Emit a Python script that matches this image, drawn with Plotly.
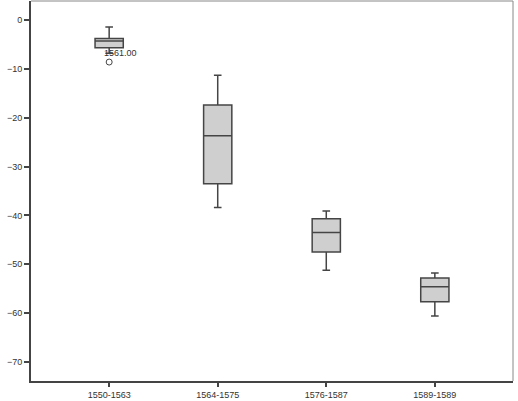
import plotly.graph_objects as go

categories = ["1550-1563", "1564-1575", "1576-1587", "1589-1589"]
lower_whisker = [-6.8, -38.4, -51.2, -60.6]
q1 = [-5.65, -33.5, -47.5, -57.7]
median = [-4.3, -23.7, -43.5, -54.6]
q3 = [-3.8, -17.4, -40.7, -52.8]
upper_whisker = [-1.4, -11.3, -39.1, -51.8]
outlier_cat = ["1550-1563"]
outlier_val = [-8.6]
outlier_label = ["1561.00"]
y_ticks = [0, -10, -20, -30, -40, -50, -60, -70]

font = dict(family="Liberation Sans, Arial, sans-serif", size=9, color="#333")

fig = go.Figure()
fig.add_trace(go.Box(
    x=categories, q1=q1, median=median, q3=q3,
    lowerfence=lower_whisker, upperfence=upper_whisker,
    fillcolor="#cfcfcf", line=dict(color="#454545", width=1.5),
    width=0.26, whiskerwidth=0.27, boxpoints=False, showlegend=False,
    hoverinfo="y",
))
fig.add_trace(go.Scatter(
    x=outlier_cat, y=outlier_val, mode="markers",
    marker=dict(symbol="circle-open", size=6, color="#454545", line=dict(width=1)),
    showlegend=False,
))
for c, v, t in zip(outlier_cat, outlier_val, outlier_label):
    fig.add_annotation(x=c, y=v, text=t, showarrow=False, xanchor="left",
                       yanchor="middle", xshift=-7, yshift=9,
                       font=dict(family=font["family"], size=9, color="#333"))

fig.update_layout(
    width=518, height=401,
    margin=dict(l=31, r=5, t=1, b=20),
    paper_bgcolor="white", plot_bgcolor="white",
    font=font,
    xaxis=dict(type="category", range=[-0.72, 3.72], showgrid=False, zeroline=False,
               showline=True, linecolor="#444", linewidth=2,
               ticks="outside", ticklen=4, tickcolor="#444", tickwidth=1.5),
    yaxis=dict(range=[-73.9, 3.9], tickvals=y_ticks, showgrid=False, zeroline=False,
               showline=True, linecolor="#444", linewidth=2,
               ticks="outside", ticklen=5, tickcolor="#444", tickwidth=1.5),
    shapes=[
        dict(type="line", xref="paper", yref="paper", x0=0, x1=1, y0=1, y1=1,
             line=dict(color="#888", width=1)),
        dict(type="line", xref="paper", yref="paper", x0=1, x1=1, y0=0, y1=1,
             line=dict(color="#888", width=1)),
    ],
)

fig.write_html("out.html")
